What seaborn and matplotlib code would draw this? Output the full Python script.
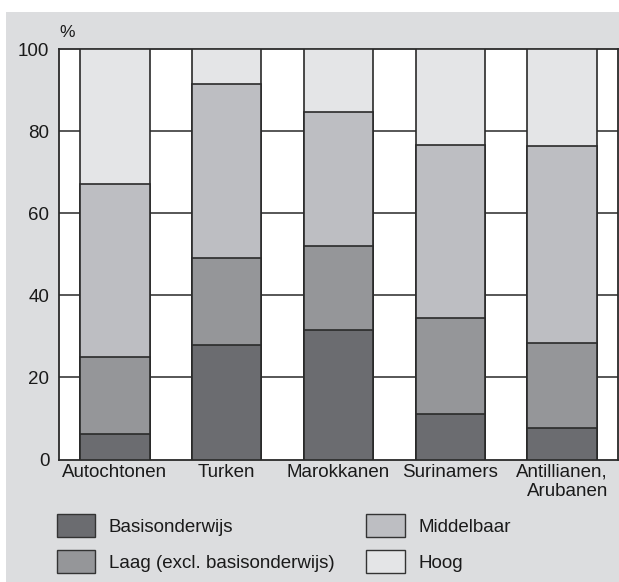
import numpy as np
import pandas as pd
import matplotlib
matplotlib.use("Agg")
import matplotlib.pyplot as plt
from matplotlib.patches import Patch, Rectangle
import seaborn as sns

# ---- data ----
categories = ["Autochtonen", "Turken", "Marokkanen", "Surinamers", "Antillianen,\nArubanen"]
levels = ["Basisonderwijs", "Laag (excl. basisonderwijs)", "Middelbaar", "Hoog"]
basis = [6.1, 28.0, 31.5, 11.1, 7.6]
laag = [18.9, 21.1, 20.5, 23.4, 20.9]
middelbaar = [42.2, 42.5, 32.6, 42.2, 48.0]
hoog = [32.8, 8.4, 15.4, 23.3, 23.5]
y_ticks = [0, 20, 40, 60, 80, 100]

colors = {"Basisonderwijs": "#6b6c70",
          "Laag (excl. basisonderwijs)": "#959699",
          "Middelbaar": "#bdbec2",
          "Hoog": "#e4e5e7"}

sns.set_theme(style="white")
plt.rcParams["font.family"] = ["Liberation Sans", "DejaVu Sans"]

fig = plt.figure(figsize=(6.19, 5.82), dpi=100, facecolor="white")
fig.patches.append(Rectangle((6 / 619, 0), 1, (582 - 12) / 582, transform=fig.transFigure,
                             facecolor="#dcdddf", edgecolor="none", zorder=-10))

ax = fig.add_axes([59 / 619, 1 - 459.5 / 582, 559 / 619, 410.2 / 582])
ax.set_facecolor("white")

df = pd.DataFrame({"cat": categories, "Basisonderwijs": basis,
                   "Laag (excl. basisonderwijs)": laag,
                   "Middelbaar": middelbaar, "Hoog": hoog})
cum = df[levels].cumsum(axis=1)

# draw cumulative bars from top layer down so lower layers overlay
for lvl in reversed(levels):
    sns.barplot(x=df["cat"], y=cum[lvl], color=colors[lvl], width=0.62,
                edgecolor="#2a2a2a", linewidth=1.2, ax=ax, zorder=3,
                saturation=1, errorbar=None)

ax.set_ylim(0, 100)
ax.set_xlim(-0.5, 4.5)
ax.set_yticks(y_ticks)
ax.set_yticklabels([str(t) for t in y_ticks], fontsize=13.5, color="#1a1a1a")
ax.set_xticks(range(len(categories)))
ax.set_xticklabels(categories, fontsize=13.5, color="#1a1a1a", multialignment="right")
ax.tick_params(axis="both", length=0)
ax.tick_params(axis="y", pad=7)
ax.tick_params(axis="x", pad=3)
ax.set_xlabel("")
ax.set_ylabel("")

for y in [20, 40, 60, 80]:
    ax.axhline(y, color="#3a3a3a", linewidth=1.2, zorder=1)
for s in ax.spines.values():
    s.set_visible(True)
    s.set_color("#2a2a2a")
    s.set_linewidth(1.3)

ax.text(0, 1.022, "%", transform=ax.transAxes, fontsize=12.5, color="#1a1a1a",
        ha="left", va="bottom")

handles = [Patch(facecolor=colors[l], edgecolor="#333333", linewidth=1.0, label=l) for l in levels]
leg = fig.legend(handles, levels,
                 loc="upper left", bbox_to_anchor=(57 / 619, 1 - 514 / 582), ncol=2,
                 frameon=False, fontsize=13.5, handlelength=2.05, handleheight=1.5,
                 handletextpad=0.72, columnspacing=1.7, labelspacing=0.72,
                 borderpad=0, borderaxespad=0)
for t in leg.get_texts():
    t.set_color("#1a1a1a")

fig.savefig("out.png", dpi=100, facecolor=fig.get_facecolor())
